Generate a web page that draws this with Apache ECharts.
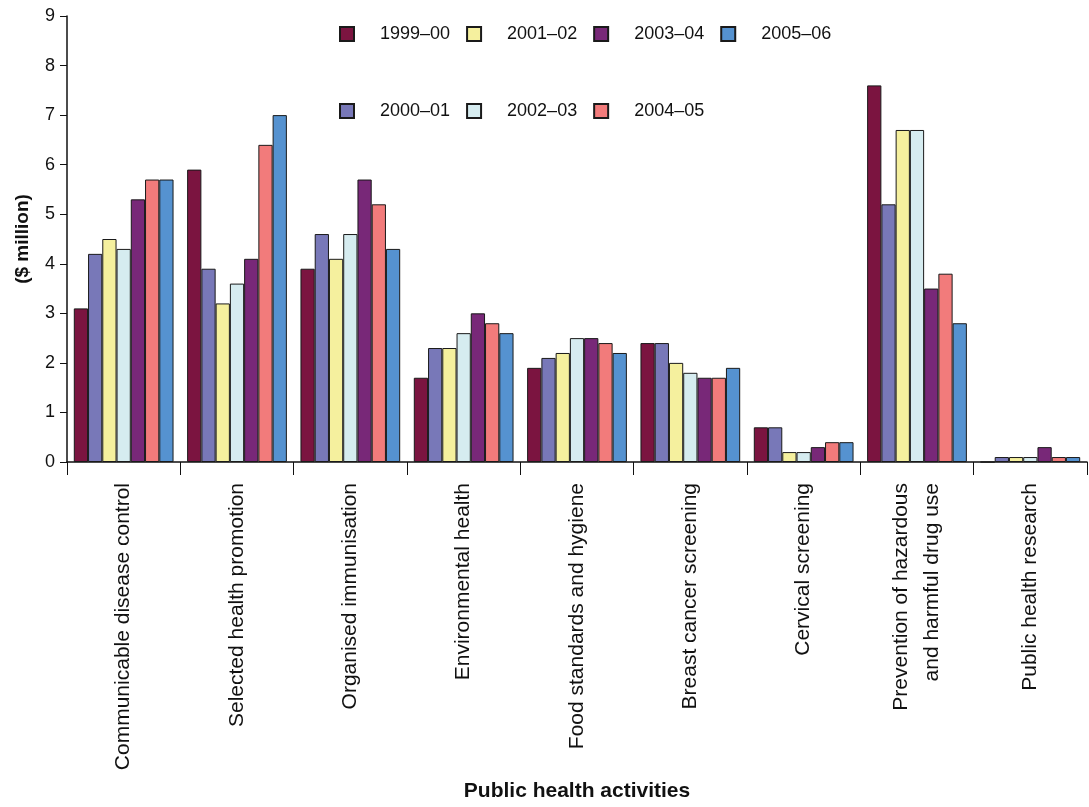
<!DOCTYPE html>
<html>
<head>
<meta charset="utf-8">
<script src="https://cdn.jsdelivr.net/npm/echarts@6/dist/echarts.min.js"></script>
<style>
  html, body { margin: 0; padding: 0; background: #fff; }
  #chart { width: 1089px; height: 807px; }
</style>
</head>
<body>
<div id="chart"></div>
<script>
// categories (x axis)
var categories = [
  'Communicable disease control',
  'Selected health promotion',
  'Organised immunisation',
  'Environmental health',
  'Food standards and hygiene',
  'Breast cancer screening',
  'Cervical screening',
  'Prevention of hazardous\nand harmful drug use',
  'Public health research'
];
var years = ['1999–00', '2000–01', '2001–02', '2002–03', '2003–04', '2004–05', '2005–06'];

// $ million, one array per year
var y1999 = [3.1, 5.9, 3.9, 1.7, 1.9, 2.4, 0.7, 7.6, 0];
var y2000 = [4.2, 3.9, 4.6, 2.3, 2.1, 2.4, 0.7, 5.2, 0.1];
var y2001 = [4.5, 3.2, 4.1, 2.3, 2.2, 2.0, 0.2, 6.7, 0.1];
var y2002 = [4.3, 3.6, 4.6, 2.6, 2.5, 1.8, 0.2, 6.7, 0.1];
var y2003 = [5.3, 4.1, 5.7, 3.0, 2.5, 1.7, 0.3, 3.5, 0.3];
var y2004 = [5.7, 6.4, 5.2, 2.8, 2.4, 1.7, 0.4, 3.8, 0.1];
var y2005 = [5.7, 7.0, 4.3, 2.6, 2.2, 1.9, 0.4, 2.8, 0.1];
var yTicks = [0, 1, 2, 3, 4, 5, 6, 7, 8, 9];

var values = [y1999, y2000, y2001, y2002, y2003, y2004, y2005];
var colors = ['#7b1440', '#7878b8', '#f5f09e', '#d6ecf0', '#782878', '#f27b7b', '#5592d0'];

var font = 'Liberation Sans, Arial, sans-serif';

var series = years.map(function (y, i) {
  return {
    name: y,
    type: 'bar',
    data: values[i],
    barGap: '0%',
    barCategoryGap: '12%',
    itemStyle: { color: colors[i], borderColor: '#1a1a1a', borderWidth: 1 }
  };
});

var legendBase = {
  orient: 'horizontal',
  itemWidth: 14,
  itemHeight: 14,
  itemGap: 16,
  icon: 'rect',
  textStyle: { fontFamily: font, fontSize: 18, color: '#111', padding: [0, 0, 0, 21] }
};

var chart = echarts.init(document.getElementById('chart'));
chart.setOption({
  animation: false,
  color: colors,
  legend: [
    Object.assign({}, legendBase, { left: 334, top: 20, data: ['1999–00', '2001–02', '2003–04', '2005–06'] }),
    Object.assign({}, legendBase, { left: 334, top: 97, data: ['2000–01', '2002–03', '2004–05'] })
  ],
  grid: { left: 67, right: 2, top: 16, bottom: 345 },
  xAxis: {
    type: 'category',
    data: categories,
    name: 'Public health activities',
    nameLocation: 'middle',
    nameGap: 319,
    nameTextStyle: { fontFamily: font, fontSize: 21, fontWeight: 'bold', color: '#111' },
    axisLine: { lineStyle: { color: '#111', width: 1.5 } },
    axisTick: { show: true, length: 13, lineStyle: { color: '#111' } },
    axisLabel: {
      rotate: 90,
      interval: 0,
      margin: 21,
      fontFamily: font,
      fontSize: 21,
      color: '#111',
      lineHeight: 31
    }
  },
  yAxis: {
    type: 'value',
    min: yTicks[0],
    max: yTicks[yTicks.length - 1],
    interval: 1,
    name: '($ million)',
    nameLocation: 'middle',
    nameGap: 35,
    nameRotate: 90,
    nameTextStyle: { fontFamily: font, fontSize: 19, fontWeight: 'bold', color: '#111' },
    axisLine: { show: true, lineStyle: { color: '#111', width: 1.5 } },
    axisTick: { show: true, length: 7, lineStyle: { color: '#111' } },
    splitLine: { show: false },
    axisLabel: { fontFamily: font, fontSize: 18, color: '#111', margin: 12 }
  },
  series: series
});
</script>
</body>
</html>
